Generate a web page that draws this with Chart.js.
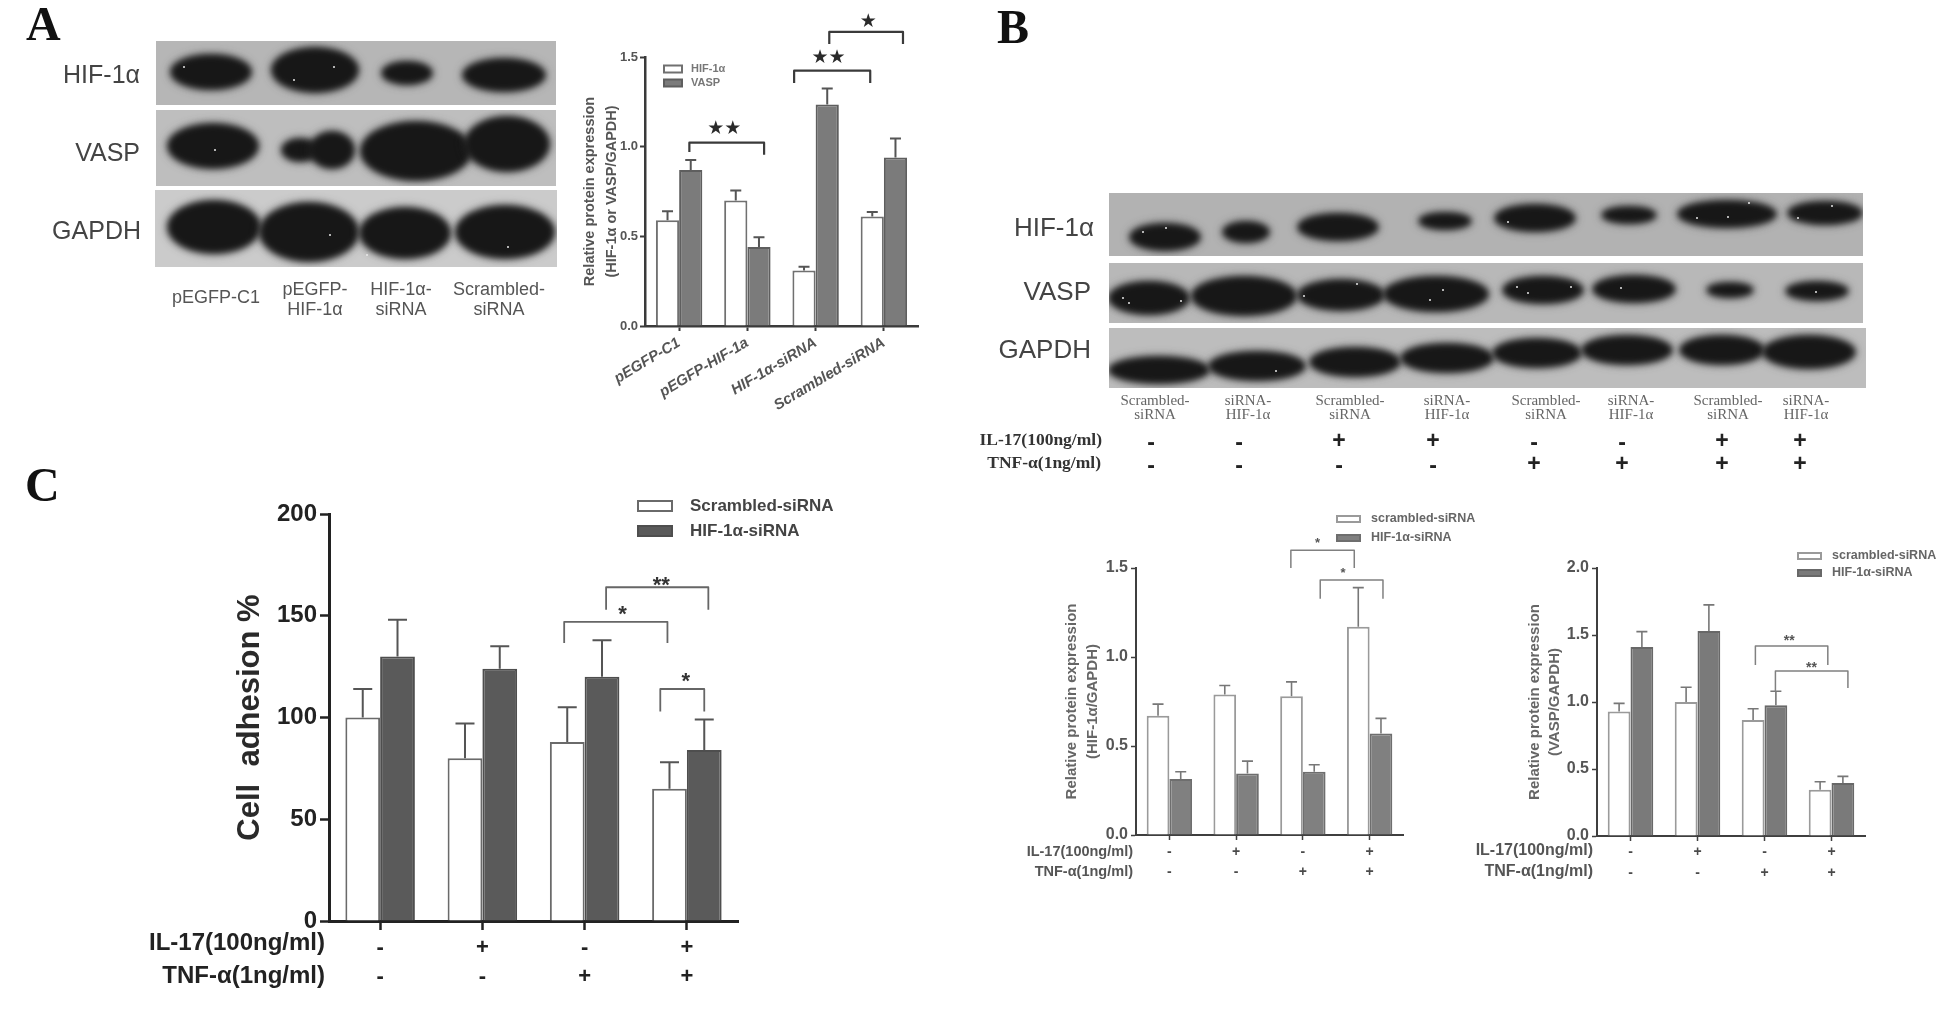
<!DOCTYPE html>
<html>
<head>
<meta charset="utf-8">
<title>HIF-1α / VASP figure</title>
<script src="https://cdn.jsdelivr.net/npm/chart.js@4"></script>
<style>
    html, body { margin: 0; padding: 0; background: #fff; overflow: hidden; }
    #page { position: relative; width: 1949px; height: 1028px; background: #fff; filter: blur(0.6px); }
    #page canvas { position: absolute; }
    #page .txt { position: absolute; white-space: nowrap; line-height: 1; }
</style>
</head>
<body>
<div id="page">
    <canvas id="blotA"></canvas>
    <canvas id="blotB"></canvas>
    <canvas id="chartA"></canvas>
    <canvas id="chartB1"></canvas>
    <canvas id="chartB2"></canvas>
    <canvas id="chartC"></canvas>
</div>
<script>
// Panel A bars
const groupsA = ['pEGFP-C1', 'pEGFP-HIF-1a', 'HIF-1α-siRNA', 'Scrambled-siRNA'];
const seriesNamesA = ['HIF-1α', 'VASP'];
const hifA = [0.59, 0.70, 0.31, 0.61];
const hifTopA = [0.64, 0.755, 0.33, 0.635];
const vaspA = [0.87, 0.44, 1.235, 0.94];
const vaspTopA = [0.925, 0.495, 1.325, 1.045];

// Panel B bars
const il17Tnf = [['-', '-'], ['+', '-'], ['-', '+'], ['+', '+']];
const seriesNamesB = ['scrambled-siRNA', 'HIF-1α-siRNA'];
const scrambledB1 = [0.67, 0.79, 0.78, 1.17];
const scrambledTopB1 = [0.735, 0.84, 0.86, 1.39];
const sirnaB1 = [0.315, 0.345, 0.355, 0.57];
const sirnaTopB1 = [0.355, 0.415, 0.395, 0.655];
const scrambledB2 = [0.93, 1.0, 0.865, 0.345];
const scrambledTopB2 = [0.99, 1.11, 0.95, 0.405];
const sirnaB2 = [1.41, 1.53, 0.975, 0.395];
const sirnaTopB2 = [1.525, 1.725, 1.08, 0.445];

// Panel C bars
const seriesNamesC = ['Scrambled-siRNA', 'HIF-1α-siRNA'];
const scrambledC = [100, 80, 88, 65];
const scrambledTopC = [114, 97, 105, 78];
const sirnaC = [130, 124, 120, 84];
const sirnaTopC = [148, 135, 138, 99];

// Significance brackets: from, to (category units), top, left leg end, right leg end, label, label x, label y
const bracketsA = [
    [0.15, 1.245, 1.022, 0.97, 0.955, '★★', 0.66, 1.11],
    [1.685, 2.80, 1.424, 1.355, 1.355, '★★', 2.19, 1.506],
    [2.20, 3.28, 1.64, 1.573, 1.573, '★', 2.77, 1.707]
];
const bracketsB1 = [
    [1.82, 2.77, 1.60, 1.50, 1.50, '*', 2.22, 1.657],
    [2.26, 3.20, 1.432, 1.327, 1.327, '*', 2.60, 1.49]
];
const bracketsB2 = [
    [1.864, 2.945, 1.418, 1.276, 1.276, '**', 2.37, 1.483],
    [2.163, 3.245, 1.231, 1.076, 1.104, '**', 2.70, 1.283]
];
const bracketsC = [
    [2.21, 3.21, 164, 153, 153, '**', 2.75, 168],
    [1.80, 2.81, 147, 136.6, 136.6, '*', 2.37, 154],
    [2.74, 3.17, 114, 103, 103, '*', 2.99, 121]
];

// Blot strips: left, top, right, bottom, grey
const stripsA = [
    [156, 41, 556, 105, '#b6b6b6'],
    [156, 110, 556, 186, '#bebebe'],
    [155, 190, 557, 267, '#cbcbcb']
];
const stripsB = [
    [1109, 193, 1863, 256, '#b2b2b2'],
    [1109, 263, 1863, 323, '#b8b8b8'],
    [1109, 328, 1866, 388, '#bdbdbd']
];

// Blot bands: centre x, centre y, half width, half height
const bandsA = [
    [211, 72, 40, 17], [315, 70, 43, 22], [407, 73, 25, 11], [504, 75, 41, 16],
    [213, 146, 45, 22], [300, 150, 18, 11], [332, 150, 22, 18], [416, 151, 55, 29], [507, 144, 42, 27],
    [214, 227, 46, 26], [309, 232, 49, 29], [405, 233, 45, 25], [505, 232, 49, 26]
];
const bandsB = [
    [1165, 237, 35, 13], [1246, 232, 23, 10], [1338, 227, 40, 13], [1445, 221, 26, 8],
    [1535, 218, 40, 13], [1629, 215, 27, 8], [1727, 214, 49, 13], [1825, 213, 37, 11],
    [1149, 298, 40, 16], [1244, 296, 52, 19], [1341, 295, 43, 15], [1436, 294, 52, 17],
    [1543, 290, 40, 13], [1634, 289, 41, 13], [1730, 290, 23, 7], [1817, 291, 31, 9],
    [1159, 370, 50, 13], [1257, 366, 48, 14], [1355, 362, 45, 14], [1447, 358, 46, 14],
    [1537, 353, 44, 14], [1627, 350, 45, 14], [1722, 350, 42, 14], [1809, 352, 46, 16]
];
const specksA = [[184, 67], [334, 67], [294, 80], [508, 247], [367, 255], [215, 150], [330, 235]];
const specksB = [
    [1166, 228], [1143, 232], [1508, 222], [1697, 218], [1728, 217], [1749, 203], [1832, 206], [1798, 218],
    [1129, 303], [1123, 298], [1181, 301], [1304, 296], [1357, 284], [1443, 290], [1430, 300],
    [1517, 287], [1528, 293], [1571, 287], [1621, 288], [1816, 292], [1276, 371]
];

// Lane and treatment labels
const blotNames = ['HIF-1α', 'VASP', 'GAPDH'];
const lanesA = [['pEGFP-C1'], ['pEGFP-', 'HIF-1α'], ['HIF-1α-', 'siRNA'], ['Scrambled-', 'siRNA']];
const lanesB = ['Scrambled-', 'siRNA-', 'Scrambled-', 'siRNA-', 'Scrambled-', 'siRNA-', 'Scrambled-', 'siRNA-'];
const lanesB2nd = ['siRNA', 'HIF-1α', 'siRNA', 'HIF-1α', 'siRNA', 'HIF-1α', 'siRNA', 'HIF-1α'];
const il17B = ['-', '-', '+', '+', '-', '-', '+', '+'];
const tnfB = ['-', '-', '-', '-', '+', '+', '+', '+'];
const rowNames = ['IL-17(100ng/ml)', 'TNF-α(1ng/ml)'];

Chart.defaults.font.family = '"Liberation Sans", Arial, sans-serif';

// Page text that sits outside the charts
function addText(text, x, y, align, font, color) {
    const el = document.createElement('div');
    el.className = 'txt';
    el.textContent = text;
    el.style.font = font;
    el.style.lineHeight = '1';
    el.style.color = color;
    el.style.left = x + 'px';
    el.style.top = y + 'px';
    const shift = align === 'right' ? '-100%' : (align === 'center' ? '-50%' : '0');
    el.style.transform = 'translate(' + shift + ', -50%)';
    document.getElementById('page').appendChild(el);
}

// Error bars go up only
const errorBarPlugin = {
    id: 'errorBars',
    afterDatasetsDraw(chart, args, opts) {
        const ctx = chart.ctx;
        const y = chart.scales.y;
        ctx.save();
        ctx.strokeStyle = opts.color;
        ctx.lineWidth = opts.width;
        opts.tops.forEach((tops, d) => {
            chart.getDatasetMeta(d).data.forEach((bar, i) => {
                const top = y.getPixelForValue(tops[i]);
                ctx.beginPath();
                ctx.moveTo(bar.x, bar.y);
                ctx.lineTo(bar.x, top);
                ctx.moveTo(bar.x - opts.cap / 2, top);
                ctx.lineTo(bar.x + opts.cap / 2, top);
                ctx.stroke();
            });
        });
        ctx.restore();
    }
};

const bracketPlugin = {
    id: 'brackets',
    afterDraw(chart, args, opts) {
        const ctx = chart.ctx;
        const xs = chart.scales.x;
        const ys = chart.scales.y;
        ctx.save();
        ctx.strokeStyle = opts.color;
        ctx.lineWidth = opts.width;
        ctx.lineJoin = 'round';
        ctx.fillStyle = opts.labelColor;
        ctx.font = opts.font;
        ctx.textAlign = 'center';
        ctx.textBaseline = 'alphabetic';
        opts.items.forEach(b => {
            const x1 = xs.getPixelForValue(b[0]);
            const x2 = xs.getPixelForValue(b[1]);
            ctx.beginPath();
            ctx.moveTo(x1, ys.getPixelForValue(b[3]));
            ctx.lineTo(x1, ys.getPixelForValue(b[2]));
            ctx.lineTo(x2, ys.getPixelForValue(b[2]));
            ctx.lineTo(x2, ys.getPixelForValue(b[4]));
            ctx.stroke();
            ctx.fillText(b[5], xs.getPixelForValue(b[6]), ys.getPixelForValue(b[7]) + opts.lift);
        });
        ctx.restore();
    }
};

const sideTextPlugin = {
    id: 'sideText',
    afterDraw(chart, args, opts) {
        const ctx = chart.ctx;
        ctx.save();
        // custom legend, positions are canvas relative
        const lg = opts.legend;
        chart.data.datasets.forEach((ds, i) => {
            const y = lg.ys[i] - opts.offsetY;
            const x = lg.x - opts.offsetX;
            ctx.fillStyle = ds.backgroundColor;
            ctx.strokeStyle = ds.borderColor;
            ctx.lineWidth = ds.borderWidth;
            ctx.fillRect(x, y - lg.h / 2, lg.w, lg.h);
            ctx.strokeRect(x, y - lg.h / 2, lg.w, lg.h);
            ctx.fillStyle = lg.color;
            ctx.font = lg.font;
            ctx.textAlign = 'left';
            ctx.textBaseline = 'middle';
            ctx.fillText(ds.label, lg.textX - opts.offsetX, y);
        });
        // IL-17 and TNF row titles
        if (opts.rows) {
            ctx.fillStyle = opts.rows.color;
            ctx.font = opts.rows.font;
            ctx.textAlign = 'right';
            ctx.textBaseline = 'middle';
            rowNames.forEach((name, i) => {
                ctx.fillText(name, opts.rows.x - opts.offsetX, opts.rows.ys[i] - opts.offsetY);
            });
        }
        ctx.restore();
    }
};

function createBarChart(id, cfg) {
    const canvas = document.getElementById(id);
    const box = cfg.box;
    const plot = cfg.plot;
    canvas.width = box.right - box.left;
    canvas.height = box.bottom - box.top;
    canvas.style.left = box.left + 'px';
    canvas.style.top = box.top + 'px';

    const titlePadding = cfg.yTitle.x - box.left - cfg.yTitle.size * cfg.yTitle.lineHeight / 2;

    new Chart(canvas, {
        type: 'bar',
        data: {
            labels: cfg.labels,
            datasets: cfg.names.map((name, i) => ({
                label: name,
                data: cfg.values[i],
                backgroundColor: cfg.fills[i],
                borderColor: cfg.borders[i],
                borderWidth: cfg.barBorder,
                categoryPercentage: 0.68,
                barPercentage: 1
            }))
        },
        options: {
            responsive: false,
            animation: false,
            layout: { padding: { top: plot.top - box.top, right: box.right - plot.right, left: 0, bottom: 0 } },
            plugins: {
                legend: { display: false },
                tooltip: { enabled: false },
                errorBars: { tops: cfg.tops, color: cfg.errorColor, width: cfg.errorWidth, cap: cfg.cap },
                brackets: cfg.brackets,
                sideText: { legend: cfg.legend, rows: cfg.rows, offsetX: box.left, offsetY: box.top }
            },
            scales: {
                x: {
                    z: 1,
                    offset: true,
                    afterFit: s => { s.height = box.bottom - plot.bottom; },
                    border: { color: cfg.axisColor, width: cfg.axisWidth },
                    grid: { offset: false, drawOnChartArea: false, tickLength: cfg.tickLength, tickWidth: cfg.tickWidth, tickColor: cfg.axisColor },
                    ticks: Object.assign({ autoSkip: false, color: cfg.xColor, font: cfg.xFont, padding: cfg.xPadding, maxRotation: 0, minRotation: 0 }, cfg.xTicks || {})
                },
                y: {
                    z: 1,
                    min: 0,
                    max: cfg.yMax,
                    afterFit: s => { s.width = plot.left - box.left; },
                    border: { color: cfg.axisColor, width: cfg.axisWidth },
                    grid: { drawOnChartArea: false, tickLength: cfg.tickLength, tickWidth: cfg.tickWidth, tickColor: cfg.axisColor },
                    ticks: {
                        stepSize: cfg.yStep,
                        color: cfg.yColor,
                        font: cfg.yFont,
                        padding: cfg.yPadding,
                        callback: v => v.toFixed(cfg.yDigits)
                    },
                    title: {
                        display: true,
                        text: cfg.yTitle.text,
                        color: cfg.yTitle.color,
                        font: { size: cfg.yTitle.size, weight: 'bold', lineHeight: cfg.yTitle.lineHeight },
                        padding: { top: titlePadding, bottom: 0 }
                    }
                }
            }
        },
        plugins: [errorBarPlugin, bracketPlugin, sideTextPlugin]
    });
}

// Film strips and bands, laid out on hidden linear scales in the film's own units
const blotPlugin = {
    id: 'blot',
    beforeDatasetsDraw(chart, args, opts) {
        const ctx = chart.ctx;
        const xs = chart.scales.x;
        const ys = chart.scales.y;
        opts.strips.forEach(s => {
            const left = xs.getPixelForValue(s[0]);
            const top = ys.getPixelForValue(s[1]);
            const w = xs.getPixelForValue(s[2]) - left;
            const h = ys.getPixelForValue(s[3]) - top;
            ctx.fillStyle = s[4];
            ctx.fillRect(left, top, w, h);
            ctx.save();
            ctx.beginPath();
            ctx.rect(left, top, w, h);
            ctx.clip();
            chart.getDatasetMeta(0).data.forEach((pt, i) => {
                const band = opts.bands[i];
                if (pt.y < top || pt.y > top + h) return;
                const rx = xs.getPixelForValue(band[0] + band[2]) - pt.x;
                const ry = ys.getPixelForValue(band[1] + band[3]) - pt.y;
                ctx.filter = 'blur(5px)';
                ctx.fillStyle = 'rgba(40,40,40,0.6)';
                ctx.beginPath();
                ctx.ellipse(pt.x, pt.y, rx + 1, ry + 1, 0, 0, Math.PI * 2);
                ctx.fill();
                ctx.filter = 'blur(3px)';
                ctx.fillStyle = '#171717';
                ctx.beginPath();
                ctx.ellipse(pt.x, pt.y, rx, ry, 0, 0, Math.PI * 2);
                ctx.fill();
            });
            ctx.filter = 'none';
            ctx.restore();
        });
    }
};

function createBlotChart(id, box, strips, bands, specks) {
    const canvas = document.getElementById(id);
    canvas.width = box.right - box.left;
    canvas.height = box.bottom - box.top;
    canvas.style.left = box.left + 'px';
    canvas.style.top = box.top + 'px';

    new Chart(canvas, {
        type: 'scatter',
        data: {
            datasets: [
                { data: bands.map(b => ({ x: b[0], y: b[1] })), pointRadius: 0 },
                { data: specks.map(p => ({ x: p[0], y: p[1] })), pointRadius: 1, pointBorderWidth: 0, pointBackgroundColor: '#e8e8e8' }
            ]
        },
        options: {
            responsive: false,
            animation: false,
            layout: { autoPadding: false },
            plugins: {
                legend: { display: false },
                tooltip: { enabled: false },
                blot: { strips: strips, bands: bands }
            },
            scales: {
                x: { display: false, min: box.left, max: box.right },
                y: { display: false, min: box.top, max: box.bottom, reverse: true }
            }
        },
        plugins: [blotPlugin]
    });
}

createBlotChart('blotA', { left: 150, top: 35, right: 562, bottom: 272 }, stripsA, bandsA, specksA);
createBlotChart('blotB', { left: 1100, top: 188, right: 1872, bottom: 392 }, stripsB, bandsB, specksB);

createBarChart('chartA', {
    box: { left: 575, top: 0, right: 935, bottom: 420 },
    plot: { left: 645, top: 57, right: 918, bottom: 326 },
    labels: groupsA,
    names: seriesNamesA,
    values: [hifA, vaspA],
    tops: [hifTopA, vaspTopA],
    fills: ['#ffffff', '#7b7b7b'],
    borders: ['#707070', '#5e5e5e'],
    barBorder: 2,
    errorColor: '#555555',
    errorWidth: 2,
    cap: 11,
    axisColor: '#3a3a3a',
    axisWidth: 2.5,
    tickLength: 5,
    tickWidth: 2,
    xColor: '#555555',
    xFont: { size: 15, weight: 'bold', style: 'italic' },
    xPadding: 3,
    xTicks: { maxRotation: 31, minRotation: 31 },
    yMax: 1.5,
    yStep: 0.5,
    yDigits: 1,
    yColor: '#555555',
    yFont: { size: 13, weight: 'bold' },
    yPadding: 2,
    yTitle: { text: ['Relative protein expression', '(HIF-1α or VASP/GAPDH)'], x: 590, size: 14.5, lineHeight: 1.5, color: '#555555' },
    brackets: { items: bracketsA, color: '#3a3a3a', width: 2.2, font: '19px "DejaVu Sans"', labelColor: '#2a2a2a', lift: 7 },
    legend: { x: 664, w: 18, h: 7, ys: [69, 83], textX: 691, font: 'bold 11px "Liberation Sans"', color: '#777777' },
    rows: null
});

createBarChart('chartB1', {
    box: { left: 1020, top: 505, right: 1490, bottom: 890 },
    plot: { left: 1136, top: 568, right: 1403, bottom: 835 },
    labels: il17Tnf,
    names: seriesNamesB,
    values: [scrambledB1, sirnaB1],
    tops: [scrambledTopB1, sirnaTopB1],
    fills: ['#ffffff', '#808080'],
    borders: ['#9a9a9a', '#6e6e6e'],
    barBorder: 2,
    errorColor: '#777777',
    errorWidth: 1.6,
    cap: 11,
    axisColor: '#3f3f3f',
    axisWidth: 2,
    tickLength: 5,
    tickWidth: 1.5,
    xColor: '#4a4a4a',
    xFont: { size: 14, weight: 'bold', lineHeight: 1.43 },
    xPadding: 2,
    yMax: 1.5,
    yStep: 0.5,
    yDigits: 1,
    yColor: '#555555',
    yFont: { size: 16, weight: 'bold' },
    yPadding: 3,
    yTitle: { text: ['Relative protein expression', '(HIF-1α/GAPDH)'], x: 1072, size: 15, lineHeight: 1.4, color: '#666666' },
    brackets: { items: bracketsB1, color: '#808080', width: 1.5, font: 'bold 13px "Liberation Sans"', labelColor: '#555555', lift: 7 },
    legend: { x: 1337, w: 23, h: 6, ys: [519, 538], textX: 1371, font: 'bold 12.5px "Liberation Sans"', color: '#666666' },
    rows: { x: 1133, ys: [852, 872], font: 'bold 14.5px "Liberation Sans"', color: '#555555' }
});

createBarChart('chartB2', {
    box: { left: 1465, top: 540, right: 1949, bottom: 890 },
    plot: { left: 1597, top: 568, right: 1865, bottom: 836 },
    labels: il17Tnf,
    names: seriesNamesB,
    values: [scrambledB2, sirnaB2],
    tops: [scrambledTopB2, sirnaTopB2],
    fills: ['#ffffff', '#7a7a7a'],
    borders: ['#9a9a9a', '#686868'],
    barBorder: 2,
    errorColor: '#777777',
    errorWidth: 1.6,
    cap: 11,
    axisColor: '#3f3f3f',
    axisWidth: 2,
    tickLength: 5,
    tickWidth: 1.5,
    xColor: '#4a4a4a',
    xFont: { size: 14, weight: 'bold', lineHeight: 1.5 },
    xPadding: 1,
    yMax: 2,
    yStep: 0.5,
    yDigits: 1,
    yColor: '#555555',
    yFont: { size: 16, weight: 'bold' },
    yPadding: 3,
    yTitle: { text: ['Relative protein expression', '(VASP/GAPDH)'], x: 1535, size: 15, lineHeight: 1.35, color: '#666666' },
    brackets: { items: bracketsB2, color: '#808080', width: 1.5, font: 'bold 14px "Liberation Sans"', labelColor: '#555555', lift: 8 },
    legend: { x: 1798, w: 23, h: 6, ys: [556, 573], textX: 1832, font: 'bold 12.5px "Liberation Sans"', color: '#666666' },
    rows: { x: 1593, ys: [851, 872], font: 'bold 16px "Liberation Sans"', color: '#555555' }
});

createBarChart('chartC', {
    box: { left: 130, top: 490, right: 850, bottom: 1000 },
    plot: { left: 329, top: 514, right: 738, bottom: 921 },
    labels: il17Tnf,
    names: seriesNamesC,
    values: [scrambledC, sirnaC],
    tops: [scrambledTopC, sirnaTopC],
    fills: ['#ffffff', '#5a5a5a'],
    borders: ['#6a6a6a', '#4e4e4e'],
    barBorder: 2,
    errorColor: '#555555',
    errorWidth: 2,
    cap: 19,
    axisColor: '#222222',
    axisWidth: 3,
    tickLength: 9,
    tickWidth: 2.5,
    xColor: '#222222',
    xFont: { size: 22, weight: 'bold', lineHeight: 1.32 },
    xPadding: 3.5,
    yMax: 200,
    yStep: 50,
    yDigits: 0,
    yColor: '#222222',
    yFont: { size: 24, weight: 'bold' },
    yPadding: 3,
    yTitle: { text: 'Cell  adhesion %', x: 250, size: 31, lineHeight: 1.2, color: '#2a2a2a' },
    brackets: { items: bracketsC, color: '#666666', width: 1.8, font: 'bold 22px "Liberation Sans"', labelColor: '#333333', lift: 13 },
    legend: { x: 638, w: 34, h: 10, ys: [506, 531], textX: 690, font: 'bold 17px "Liberation Sans"', color: '#444444' },
    rows: { x: 325, ys: [943, 976], font: 'bold 24px "Liberation Sans"', color: '#222222' }
});

// Panel letters
addText('A', 26, 24, 'left', 'bold 48px "Liberation Serif"', '#111');
addText('B', 997, 27, 'left', 'bold 48px "Liberation Serif"', '#111');
addText('C', 25, 485, 'left', 'bold 48px "Liberation Serif"', '#111');

// Panel A film labels
const blotLabelFontA = '25px "Liberation Sans"';
addText(blotNames[0], 140, 74, 'right', blotLabelFontA, '#444');
addText(blotNames[1], 140, 152, 'right', blotLabelFontA, '#444');
addText(blotNames[2], 141, 230, 'right', blotLabelFontA, '#444');
const laneXA = [216, 315, 401, 499];
lanesA.forEach((lines, i) => {
    const rows = lines.length === 1 ? [297] : [289, 309];
    lines.forEach((line, r) => addText(line, laneXA[i], rows[r], 'center', '18px "Liberation Sans"', '#555'));
});

// Panel B film labels
const blotLabelFontB = '26px "Liberation Sans"';
addText(blotNames[0], 1094, 227, 'right', blotLabelFontB, '#444');
addText(blotNames[1], 1091, 291, 'right', blotLabelFontB, '#444');
addText(blotNames[2], 1091, 349, 'right', blotLabelFontB, '#444');
const laneXB = [1155, 1248, 1350, 1447, 1546, 1631, 1728, 1806];
lanesB.forEach((name, i) => {
    addText(name, laneXB[i], 400, 'center', '15px "Liberation Serif"', '#666');
    addText(lanesB2nd[i], laneXB[i], 414, 'center', '15px "Liberation Serif"', '#666');
});
const rowFontB = 'bold 17.5px "Liberation Serif"';
addText('IL-17(100ng/ml)', 1102, 440, 'right', rowFontB, '#333');
addText('TNF-α(1ng/ml)', 1101, 463, 'right', rowFontB, '#333');
const markXB = [1151, 1239, 1339, 1433, 1534, 1622, 1722, 1800];
markXB.forEach((x, i) => {
    addText(il17B[i], x, il17B[i] === '+' ? 440 : 442, 'center', 'bold 23px "Liberation Sans"', '#222');
    addText(tnfB[i], x, tnfB[i] === '+' ? 463 : 465, 'center', 'bold 23px "Liberation Sans"', '#222');
});
</script>
</body>
</html>
